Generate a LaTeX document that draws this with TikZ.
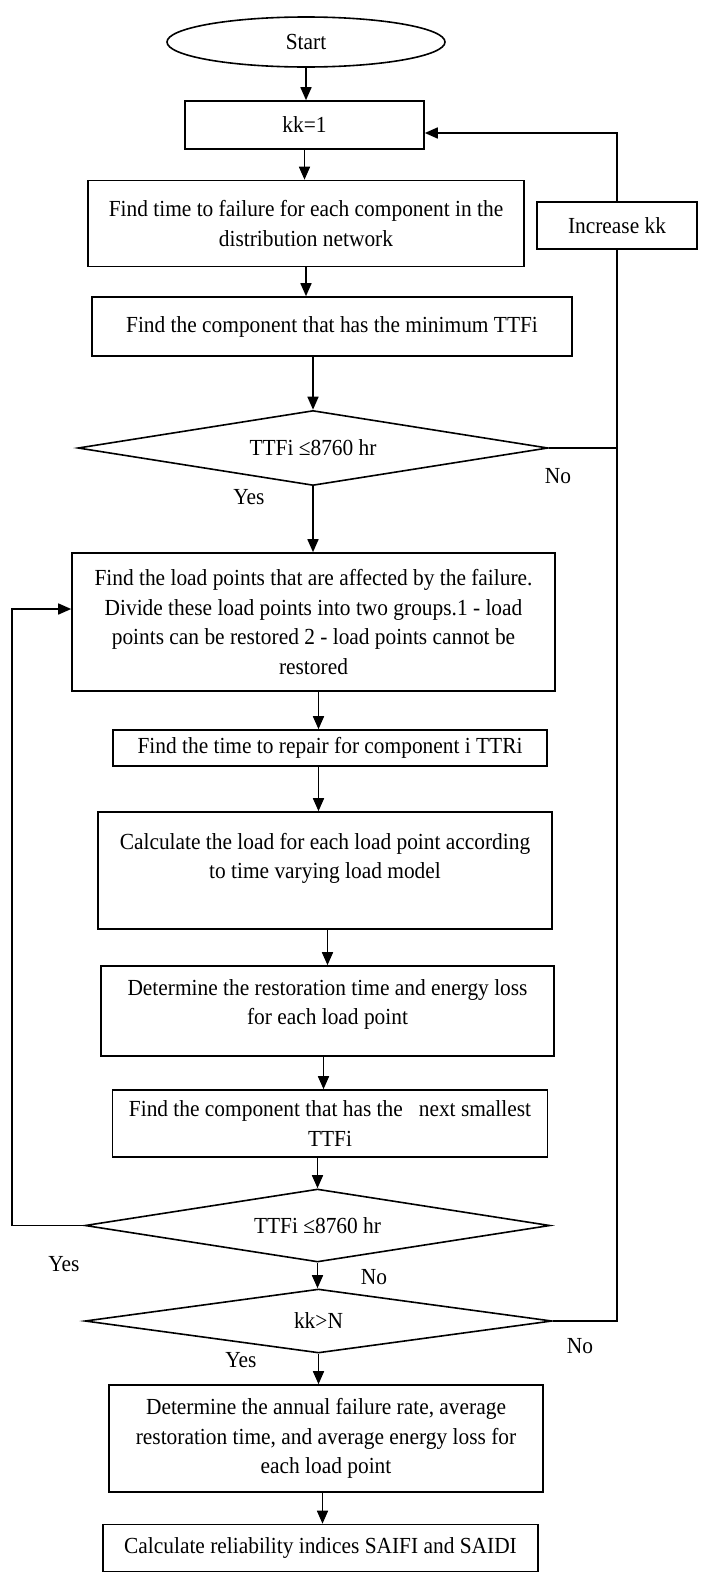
\documentclass[tikz,border=0pt]{standalone}
\usepackage{fontspec}
\setmainfont{Liberation Serif}[FakeStretch=0.93]
\usetikzlibrary{shapes.geometric,arrows.meta}

\begin{document}
\begin{tikzpicture}[x=1pt,y=-1pt,
    font=\fontsize{23}{29.5}\selectfont,
    proc/.style={draw, line width=1.6pt, rectangle, align=center, inner sep=0pt},
    term/.style={draw, line width=1.6pt, ellipse, inner sep=0pt},
    decision/.style={draw, line width=1.6pt, diamond, aspect=6, inner sep=0pt},
    arr/.style={line width=1.6pt, -{Triangle[length=13pt,width=11pt]}},
    link/.style={line width=1.6pt},
    lbl/.style={inner sep=0pt}]
    \useasboundingbox (0,0) rectangle (702,1585);

    % Start
    \node[term, minimum width=278pt, minimum height=50pt] (start) at (306,42) {Start};
    \node[proc, minimum width=239pt, minimum height=48pt] (kk1) at (304.5,125) {kk=1};
    \node[proc, minimum width=436pt, minimum height=86pt] (ttf) at (306,223.5)
        {Find time to failure for each component in the\\distribution network};
    \node[proc, minimum width=160pt, minimum height=47pt] (inc) at (617,225.5) {Increase kk};
    \node[proc, minimum width=480pt, minimum height=59pt] (minttf) at (332,326.5)
        {Find the component that has the minimum TTFi};

    % First check
    \node[decision, minimum width=470pt, minimum height=75pt] (chk1) at (313,448) {TTFi ≤8760 hr};
    \node[lbl] (no1) at (558,476) {No};
    \node[lbl] (yes1) at (249,497) {Yes};

    % Load points
    \node[proc, minimum width=483pt, minimum height=138pt] (load) at (313.5,622)
        {Find the load points that are affected by the failure.\\Divide these load points into two groups.1 - load\\points can be restored 2 - load points cannot be\\restored};
    \node[proc, minimum width=434pt, minimum height=36pt] (ttr) at (330,748)
        {Find the time to repair for component i TTRi};
    \node[proc, minimum width=454pt, minimum height=117pt] (calc) at (325,870.5)
        {Calculate the load for each load point according\\to time varying load model\\~};
    \node[proc, minimum width=453pt, minimum height=90pt] (rest) at (327.5,1011)
        {Determine the restoration time and energy loss\\for each load point\\[-12pt]~};
    \node[proc, minimum width=435pt, minimum height=67pt] (next) at (330,1123.5)
        {Find the component that has the~~ next smallest\\TTFi};

    % Second check and kk check
    \node[decision, minimum width=465pt, minimum height=73pt] (chk2) at (317.5,1225.5) {TTFi ≤8760 hr};
    \node[lbl] (yes2) at (64,1264) {Yes};
    \node[lbl] (no2) at (374,1277) {No};
    \node[decision, minimum width=467pt, minimum height=64pt] (chkkk) at (318.5,1321) {kk>N};
    \node[lbl] (no3) at (580,1346) {No};
    \node[lbl] (yes3) at (241,1360) {Yes};

    % Results
    \node[proc, minimum width=434pt, minimum height=107pt] (annual) at (326,1438.5)
        {Determine the annual failure rate, average\\restoration time, and average energy loss for\\each load point};
    \node[proc, minimum width=435pt, minimum height=47pt] (indices) at (320.5,1548)
        {Calculate reliability indices SAIFI and SAIDI};

    % Main flow
    \draw[arr] (start.south) -- (start.south |- kk1.north);
    \draw[arr] (kk1.south) -- (kk1.south |- ttf.north);
    \draw[arr] (ttf.south) -- (ttf.south |- minttf.north);
    \draw[arr] (chk1.north |- minttf.south) -- (chk1.north);
    \draw[arr] (chk1.south) -- (chk1.south |- load.north);
    \draw[arr] ([xshift=5pt]load.south) -- ([xshift=5pt]load.south |- ttr.north);
    \draw[arr] ([xshift=5pt]load.south |- ttr.south) -- ([xshift=5pt]load.south |- calc.north);
    \draw[arr] (rest.north |- calc.south) -- (rest.north);
    \draw[arr] ([xshift=-4pt]rest.south) -- ([xshift=-4pt]rest.south |- next.north);
    \draw[arr] (chk2.north |- next.south) -- (chk2.north);
    \draw[arr] (chk2.south) -- (chk2.south |- chkkk.north);
    \draw[arr] (chkkk.south) -- (chkkk.south |- annual.north);
    \draw[arr] ([xshift=4pt]chkkk.south |- annual.south) -- ([xshift=4pt]chkkk.south |- indices.north);

    % Loop back (yes)
    \coordinate (back) at (12,1225.5);
    \draw[arr] (chk2.west) -- (back) |- ([yshift=13pt]load.west);

    % Loop back (no)
    \draw[link] (chkkk.east) -- (chkkk.east -| inc.south) -- (inc.south);
    \draw[link] (chk1.east) -- (chk1.east -| inc.south);
    \draw[arr] (inc.north) |- ([yshift=-8pt]kk1.east);
\end{tikzpicture}
\end{document}
